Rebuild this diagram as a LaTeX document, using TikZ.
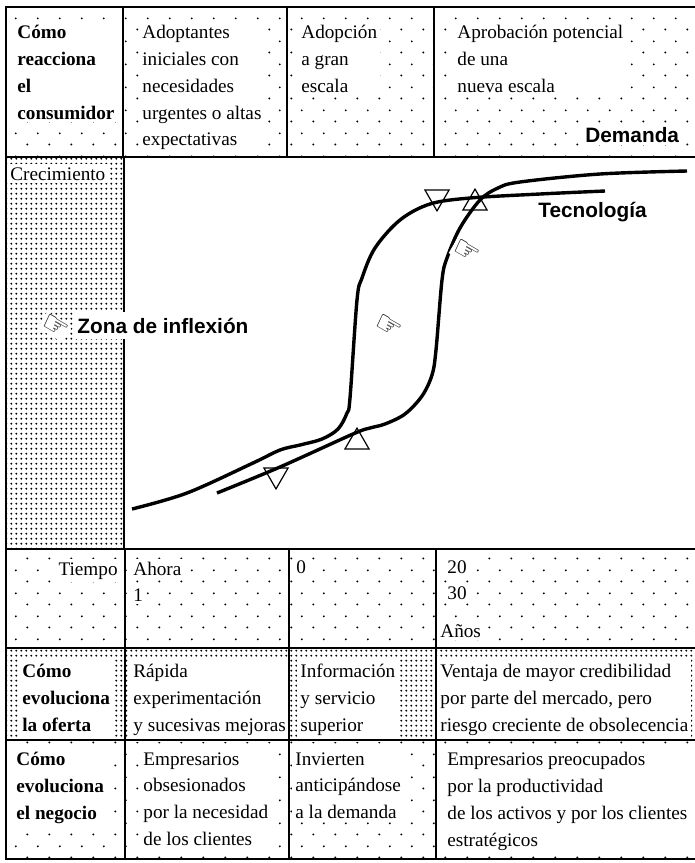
\documentclass[tikz,border=0pt]{standalone}
\usepackage{fontspec}
\setmainfont{Liberation Serif}
\setsansfont{Liberation Sans}
\newfontfamily\handfont{DejaVu Sans}
\usepackage{tikz}
\usetikzlibrary{patterns}
\usetikzlibrary{shapes.geometric}
\pgfdeclarepatternformonly{sparsedots}{\pgfpointorigin}{\pgfqpoint{11pt}{11.5pt}}{\pgfqpoint{11pt}{11.5pt}}{\pgfpathcircle{\pgfqpoint{2.75pt}{2.875pt}}{0.55pt}\pgfpathcircle{\pgfqpoint{8.25pt}{8.625pt}}{0.55pt}\pgfusepath{fill}}
\pgfdeclarepatternformonly{densedots}{\pgfpointorigin}{\pgfqpoint{2.4pt}{2.4pt}}{\pgfqpoint{2.4pt}{2.4pt}}{\pgfpathcircle{\pgfqpoint{1.2pt}{1.2pt}}{0.55pt}\pgfusepath{fill}}
\newcommand{\cellfont}{\fontsize{9.6}{13.4}\selectfont}
\tikzstyle{txt} = [anchor=base west, align=left, fill=white, inner sep=1.5pt, font=\cellfont]
\tikzstyle{headtxt} = [txt, font=\cellfont\bfseries]
\tikzstyle{blk} = [anchor=north west]
\tikzstyle{oferta} = [inner ysep=3pt]
\tikzstyle{lab} = [anchor=base west, fill=white, inner sep=1.5pt, font=\sffamily\bfseries\fontsize{10.4}{12}\selectfont]
\tikzstyle{hand} = [font=\handfont\fontsize{15}{15}\selectfont, rotate=-30, inner sep=0.5pt, fill=white]
\tikzstyle{tri} = [regular polygon, regular polygon sides=3, minimum size=13.9pt, inner sep=0pt, draw=black, line width=0.6pt]
\tikzstyle{scurve} = [line width=1.7pt, line join=round]
\tikzstyle{framerule} = [line width=1.4pt]
\tikzstyle{cellrule} = [line width=1.1pt]

\begin{document}
\begin{tikzpicture}[x=0.5pt, y=-0.5pt]
						\useasboundingbox (0,0) rectangle (695,863);
						\fill [pattern=sparsedots] (6,7) rectangle (695,157);
						\fill [pattern=densedots] (6,157) rectangle (124,549);
						\fill [pattern=sparsedots] (6,549) rectangle (695,648);
						\fill [pattern=densedots] (6,648) rectangle (695,740);
						\fill [pattern=sparsedots] (6,740) rectangle (695,859);
						\node (reac) [headtxt, blk] at (14,22) {Cómo\\reacciona\\el\\consumidor};
						\node (adop) [txt, blk] at (139,22) {Adoptantes\\iniciales con\\necesidades\\urgentes o altas\\expectativas};
						\node (gran) [txt, blk] at (298,22) {Adopción\\a gran\\escala};
						\node (apro) [txt, blk] at (454,22) {Aprobación potencial\\de una\\nueva escala};
						\node (dem) [lab] at (582,142) {Demanda};
						\node (crec) [txt] at (7,180) {Crecimiento};
						\node (tiem) [txt, anchor=base east] at (121,575) {Tiempo};
						\node (ahora) [txt] at (130,575) {Ahora};
						\node (uno) [txt] at (130,601) {1};
						\node (cero) [txt] at (293,573) {0};
						\node (veinte) [txt] at (444,573) {20};
						\node (treinta) [txt] at (444,599) {30};
						\node (anos) [txt] at (437,637) {Años};
						\node (ofer) [headtxt, blk, oferta] at (19,658) {Cómo\\evoluciona\\la oferta};
						\node (rapi) [txt, blk, oferta] at (130,658) {Rápida\\experimentación\\y sucesivas mejoras};
						\node (info) [txt, blk, oferta] at (297,658) {Información\\y servicio\\superior};
						\node (vent) [txt, blk, oferta] at (437,658) {Ventaja de mayor credibilidad\\por parte del mercado, pero\\riesgo creciente de obsolecencia};
						\node (nego) [headtxt, blk] at (13,749) {Cómo\\evoluciona\\el negocio};
						\node (empr) [txt, blk] at (140,749) {Empresarios\\obsesionados\\por la necesidad\\de los clientes};
						\node (invi) [txt, blk] at (292,749) {Invierten\\anticipándose\\a la demanda};
						\node (preo) [txt, blk] at (444,749) {Empresarios preocupados\\por la productividad\\de los activos y por los clientes\\estratégicos};
						\draw [framerule] (695,7) -- (6,7) -- (6,859) -- (695,859);
						\draw [cellrule] (6,157) -- (695,157);
						\draw [cellrule] (6,549) -- (695,549);
						\draw [cellrule] (6,648) -- (695,648);
						\draw [cellrule] (6,740) -- (695,740);
						\draw [cellrule] (123,7) -- (123,157);
						\draw [cellrule] (287,7) -- (287,157);
						\draw [cellrule] (434,7) -- (434,157);
						\draw [framerule] (124,157) -- (124,549);
						\draw [cellrule] (125,549) -- (125,859);
						\draw [cellrule] (289,549) -- (289,859);
						\draw [cellrule] (436,549) -- (436,859);
						\node (tr1) [tri, shape border rotate=180] at (276,475) {};
						\node (tr2) [tri] at (357,442) {};
						\node (tr3) [tri, shape border rotate=180] at (437,197) {};
						\node (tr4) [tri] at (475,203) {};
						\draw [scurve] plot [smooth, tension=0.55] coordinates {(132,509) (187,493) (253,463) (280,450) (300,445) (322,439) (338,429) (347,413) (350,398) (357,300) (362,278) (375,248) (400,220) (430,204) (470,198) (540,194) (605,191)};
						\draw [scurve] plot [smooth, tension=0.55] coordinates {(217,493) (280,467) (353,434) (370,428) (385,424) (405,414) (422,396) (432,375) (436,350) (442,280) (447,258) (460,228) (480,200) (498,188) (520,182) (600,174) (687,171)};
						\node (tec) [lab] at (535,217) {Tecnología};
						\node (zona) [lab, inner ysep=3pt] at (74,333) {Zona de inflexión};
						\node (hand1) [hand] at (55,327) {☞};
						\node (hand2) [hand] at (388,327) {☞};
						\node (hand3) [hand] at (466,252) {☞};
					\end{tikzpicture}
\end{document}
